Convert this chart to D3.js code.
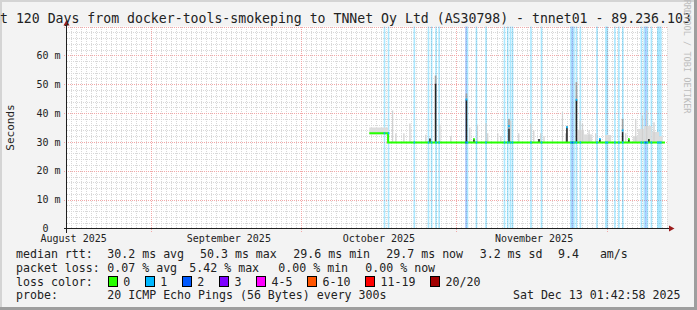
<!DOCTYPE html>
<html>
<head>
<meta charset="utf-8">
<script src="https://cdn.jsdelivr.net/npm/d3@7"></script>
<style>
  body { margin: 0; background: #f3f3f3; }
  svg { display: block; font-family: "DejaVu Sans Mono", monospace; }
  text { white-space: pre; }
</style>
</head>
<body>
<svg id="chart" width="697" height="310"></svg>
<script>
// ---- data ----
const titleText = "Last 120 Days from docker-tools-smokeping to TNNet Oy Ltd (AS30798) - tnnet01 - 89.236.103";
const endTime = new Date("2025-12-13T01:42:58Z");
const startTime = new Date(endTime.getTime() - 120 * 864e5);
const dataEnd = new Date("2025-12-12T16:00:00Z");

const yTicks = [0, 10, 20, 30, 40, 50, 60];
const monthLabels = ["August 2025", "September 2025", "October 2025", "November 2025"];

// median rtt (ms), step changes
const medianSteps = [
  ["2025-10-14T14:00:00Z", 33.0],
  ["2025-10-18T08:00:00Z", 29.8]
];

// packet loss events: [time, loss class]
const lossEvents = [
  ["2025-10-17T11:00:00Z", 1], ["2025-10-18T06:30:00Z", 1], ["2025-10-23T10:00:00Z", 1],
  ["2025-10-26T06:00:00Z", 1], ["2025-10-26T21:00:00Z", 1], ["2025-10-27T18:00:00Z", 1],
  ["2025-10-28T09:00:00Z", 1], ["2025-11-02T18:00:00Z", 2], ["2025-11-03T01:00:00Z", 1],
  ["2025-11-04T20:00:00Z", 1], ["2025-11-06T18:00:00Z", 1], ["2025-11-10T10:30:00Z", 1],
  ["2025-11-11T02:00:00Z", 1], ["2025-11-11T15:00:00Z", 1], ["2025-11-12T01:00:00Z", 1],
  ["2025-11-15T17:30:00Z", 1], ["2025-11-17T20:00:00Z", 1], ["2025-11-23T17:00:00Z", 1],
  ["2025-11-24T00:00:00Z", 2], ["2025-11-24T07:30:00Z", 1], ["2025-11-24T19:30:00Z", 1],
  ["2025-11-25T14:30:00Z", 1], ["2025-11-28T22:00:00Z", 1], ["2025-11-30T17:00:00Z", 1],
  ["2025-12-01T00:00:00Z", 1], ["2025-12-02T12:00:00Z", 1], ["2025-12-03T07:00:00Z", 1],
  ["2025-12-04T02:00:00Z", 1], ["2025-12-07T19:00:00Z", 1], ["2025-12-08T09:00:00Z", 1],
  ["2025-12-08T16:30:00Z", 2], ["2025-12-09T00:00:00Z", 1], ["2025-12-09T19:00:00Z", 1],
  ["2025-12-11T02:00:00Z", 1], ["2025-12-11T09:00:00Z", 1], ["2025-12-11T16:30:00Z", 1]
];

// dense smoke spikes: [time, dark top ms, light top ms, median tip ms, tip loss class]
const darkSpikes = [
  ["2025-10-26T13:00:00Z", 31.2, null, null, 0],
  ["2025-10-27T16:00:00Z", 50.2, 53.0, null, 0],
  ["2025-11-02T20:00:00Z", 44.7, 46.8, 44.7, 1],
  ["2025-11-04T08:00:00Z", 31.0, null, 31.0, 0],
  ["2025-11-11T08:00:00Z", 34.6, 38.0, 35.5, 1],
  ["2025-11-17T08:00:00Z", 31.0, null, null, 0],
  ["2025-11-22T22:00:00Z", 35.1, 35.6, 35.1, 1],
  ["2025-11-24T19:30:00Z", 44.6, 50.7, 44.6, 1],
  ["2025-11-29T12:00:00Z", 31.0, null, 31.0, 1],
  ["2025-12-04T01:00:00Z", 33.4, 38.0, 34.0, 1],
  ["2025-12-05T07:00:00Z", 31.0, null, 31.0, 0],
  ["2025-12-09T07:00:00Z", 31.0, null, null, 0]
];

// light smoke spikes: [time, top ms]
const lightSpikes = [
  ["2025-10-19T03:00:00Z", 40.9], ["2025-10-19T18:30:00Z", 33.0], ["2025-10-21T09:00:00Z", 33.0],
  ["2025-10-22T14:00:00Z", 36.4], ["2025-10-25T18:00:00Z", 32.5], ["2025-10-28T13:30:00Z", 36.0],
  ["2025-10-30T18:00:00Z", 32.0], ["2025-11-03T13:00:00Z", 35.0], ["2025-11-05T02:00:00Z", 36.0],
  ["2025-11-06T18:00:00Z", 36.5], ["2025-11-07T03:00:00Z", 33.0], ["2025-11-09T03:00:00Z", 33.0],
  ["2025-11-09T18:00:00Z", 32.0], ["2025-11-11T17:30:00Z", 37.4], ["2025-11-13T08:00:00Z", 33.0],
  ["2025-11-15T17:30:00Z", 36.4], ["2025-11-16T08:00:00Z", 34.0], ["2025-11-17T17:00:00Z", 33.0],
  ["2025-11-18T09:00:00Z", 32.0], ["2025-11-20T01:30:00Z", 31.0], ["2025-11-22T01:30:00Z", 40.3],
  ["2025-11-22T17:00:00Z", 33.0], ["2025-11-25T14:00:00Z", 37.4], ["2025-11-26T01:30:00Z", 36.4],
  ["2025-11-27T09:00:00Z", 34.0], ["2025-11-28T17:00:00Z", 33.0], ["2025-12-04T17:00:00Z", 33.0],
  ["2025-12-06T17:00:00Z", 38.0], ["2025-12-08T01:00:00Z", 39.2], ["2025-12-08T21:30:00Z", 40.9],
  ["2025-12-10T08:30:00Z", 36.8]
];

// broad smoke bands: [start, end, low ms, high ms]
const smokeBands = [
  ["2025-10-14T14:00:00Z", "2025-10-18T08:00:00Z", 32.6, 35.0],
  ["2025-11-25T01:30:00Z", "2025-11-26T12:00:00Z", 29.8, 34.2],
  ["2025-11-26T12:00:00Z", "2025-11-28T03:00:00Z", 29.8, 32.6],
  ["2025-11-30T17:00:00Z", "2025-12-01T22:00:00Z", 29.8, 32.4],
  ["2025-12-06T06:00:00Z", "2025-12-07T07:00:00Z", 29.8, 32.0],
  ["2025-12-07T07:00:00Z", "2025-12-08T12:00:00Z", 29.8, 34.5],
  ["2025-12-08T12:00:00Z", "2025-12-10T00:00:00Z", 29.8, 35.5],
  ["2025-12-10T00:00:00Z", "2025-12-11T12:00:00Z", 29.8, 33.5],
  ["2025-12-11T12:00:00Z", "2025-12-12T05:00:00Z", 29.8, 32.0]
];

const lossLabels = ["0", "1", "2", "3", "4-5", "6-10", "11-19", "20/20"];
const lossColors = ["#26ff00", "#00b8ff", "#0059ff", "#7e00ff", "#ff00ff", "#ff5500", "#ff0000", "#a10000"];

const rttStats = ["30.2 ms avg", "50.3 ms max", "29.6 ms min", "29.7 ms now", "3.2 ms sd", "9.4   am/s"];
const lossStats = ["0.07 % avg", "5.42 % max", "0.00 % min", "0.00 % now"];
const probeText = "20 ICMP Echo Pings (56 Bytes) every 300s";
const stampText = "Sat Dec 13 01:42:58 2025";

// ---- layout ----
const svg = d3.select("#chart");
const W = 697, H = 310;
const plotL = 66.5, plotR = 667, plotT = 26.5, plotB = 228.5;

const x = d3.scaleUtc().domain([startTime, endTime]).range([plotL, plotR]);
const y = d3.scaleLinear().domain([0, 70]).range([plotB, plotT]);
const stepPx = 1.6;

// frame
svg.append("rect").attr("width", W).attr("height", H).attr("fill", "#f3f3f3");
svg.append("path").attr("d", `M0,0H${W}V2H2V${H}H0Z`).attr("fill", "#d4d4d4");
svg.append("path").attr("d", `M${W},${H}H0V${H - 3}H${W - 3}V0H${W}Z`).attr("fill", "#9e9e9e");

// canvas
svg.append("rect")
  .attr("x", plotL).attr("y", plotT)
  .attr("width", plotR - plotL).attr("height", plotB - plotT)
  .attr("fill", "#ffffff");

const grid = svg.append("g").attr("shape-rendering", "crispEdges");

// minor grid
d3.utcDay.range(startTime, endTime).forEach(function(d) {
  const px = Math.round(x(d)) + 0.5;
  grid.append("line")
    .attr("x1", px).attr("x2", px).attr("y1", plotT).attr("y2", plotB)
    .attr("stroke", "#d8d8d8").attr("stroke-dasharray", "1,1");
});
for (let v = 2; v < 70; v += 2) {
  if (v % 10 === 0) continue;
  const py = Math.round(y(v)) + 0.5;
  grid.append("line")
    .attr("x1", plotL).attr("x2", plotR).attr("y1", py).attr("y2", py)
    .attr("stroke", "#d8d8d8").attr("stroke-dasharray", "1,1");
}

// major grid
const months = d3.utcMonth.range(d3.utcMonth.ceil(startTime), endTime);
months.forEach(function(d) {
  const px = Math.round(x(d)) + 0.5;
  grid.append("line")
    .attr("x1", px).attr("x2", px).attr("y1", plotT).attr("y2", plotB + 3)
    .attr("stroke", "#f2a8a8").attr("stroke-dasharray", "1,1");
});
yTicks.slice(1).concat([70]).forEach(function(v) {
  const py = Math.round(y(v)) + 0.5;
  grid.append("line")
    .attr("x1", plotL - 3).attr("x2", plotR).attr("y1", py).attr("y2", py)
    .attr("stroke", "#f2a8a8").attr("stroke-dasharray", "1,1");
});

// loss bars
const gLoss = svg.append("g");
lossEvents.forEach(function(e) {
  const px = x(new Date(e[0]));
  gLoss.append("rect")
    .attr("x", px).attr("y", plotT)
    .attr("width", stepPx).attr("height", plotB - plotT)
    .attr("fill", lossColors[e[1]]).attr("opacity", 0.33);
});

// smoke
const gSmoke = svg.append("g");
const baseMs = medianSteps[medianSteps.length - 1][1];
smokeBands.forEach(function(b) {
  gSmoke.append("rect")
    .attr("x", x(new Date(b[0]))).attr("y", y(b[3]))
    .attr("width", x(new Date(b[1])) - x(new Date(b[0])))
    .attr("height", y(b[2]) - y(b[3]))
    .attr("fill", "#dcdcdc");
});
lightSpikes.forEach(function(s) {
  gSmoke.append("rect")
    .attr("x", x(new Date(s[0]))).attr("y", y(s[1]))
    .attr("width", 1.2).attr("height", y(baseMs) - y(s[1]))
    .attr("fill", "#d0d0d0");
});
darkSpikes.forEach(function(s) {
  const px = x(new Date(s[0]));
  if (s[2] !== null) {
    gSmoke.append("rect")
      .attr("x", px).attr("y", y(s[2]))
      .attr("width", stepPx).attr("height", y(s[1]) - y(s[2]))
      .attr("fill", "#a0a0a0");
  }
  gSmoke.append("rect")
    .attr("x", px).attr("y", y(s[1]))
    .attr("width", stepPx).attr("height", y(baseMs) - y(s[1]))
    .attr("fill", "#262626");
});

// median line
const medianPts = medianSteps.map(function(d) { return [new Date(d[0]), d[1]]; });
medianPts.push([dataEnd, baseMs]);
const line = d3.line()
  .x(function(d) { return x(d[0]); })
  .y(function(d) { return y(d[1]); })
  .curve(d3.curveStepAfter);
svg.append("path")
  .datum(medianPts)
  .attr("d", line)
  .attr("fill", "none")
  .attr("stroke", lossColors[0])
  .attr("stroke-width", 2);

function medianAt(t) {
  let v = medianSteps[0][1];
  medianSteps.forEach(function(d) { if (new Date(d[0]) <= t) v = d[1]; });
  return v;
}
lossEvents.forEach(function(e) {
  const t = new Date(e[0]);
  const py = y(medianAt(t));
  svg.append("rect")
    .attr("x", x(t)).attr("y", py - 1)
    .attr("width", stepPx).attr("height", 2)
    .attr("fill", lossColors[e[1]]);
});
darkSpikes.forEach(function(s) {
  if (s[3] === null) return;
  svg.append("rect")
    .attr("x", x(new Date(s[0]))).attr("y", y(s[3]) - 1)
    .attr("width", stepPx).attr("height", 2)
    .attr("fill", lossColors[s[4]]);
});

// axes
svg.append("line")
  .attr("x1", plotL).attr("x2", plotL).attr("y1", plotB + 4).attr("y2", plotT - 2)
  .attr("stroke", "#202020").attr("shape-rendering", "crispEdges");
svg.append("line")
  .attr("x1", plotL - 3).attr("x2", plotR + 3).attr("y1", plotB).attr("y2", plotB)
  .attr("stroke", "#202020").attr("shape-rendering", "crispEdges");
svg.append("path")
  .attr("d", `M${plotL - 3},${plotT - 1}L${plotL},${plotT - 6.5}L${plotL + 3},${plotT - 1}Z`)
  .attr("fill", "#9b1c1c");
svg.append("path")
  .attr("d", `M${plotR + 2},${plotB - 3}L${plotR + 7.5},${plotB}L${plotR + 2},${plotB + 3}Z`)
  .attr("fill", "#9b1c1c");

// y tick labels
yTicks.forEach(function(v) {
  svg.append("text")
    .attr("x", v === 0 ? 48.5 : 60.5)
    .attr("y", v === 0 ? y(v) - 0.5 : y(v))
    .attr("dy", "0.36em")
    .attr("text-anchor", "end")
    .attr("font-size", "10px")
    .attr("fill", "#222")
    .text(v === 0 ? "0" : v + " m");
});

// month labels, centred on the month
d3.utcMonth.range(d3.utcMonth.floor(startTime), endTime).forEach(function(d, i) {
  const mid = new Date(d.getTime() + 15.5 * 864e5);
  if (mid < startTime || mid > endTime || i >= monthLabels.length) return;
  svg.append("text")
    .attr("x", x(mid)).attr("y", 241.8)
    .attr("text-anchor", "middle")
    .attr("font-size", "10px")
    .attr("fill", "#222")
    .text(monthLabels[i]);
});

// title
svg.append("text")
  .attr("x", -23.8).attr("y", 23)
  .attr("font-size", "13.2px")
  .attr("fill", "#222")
  .text(titleText);

// vertical label
svg.append("text")
  .attr("transform", "translate(14," + ((plotT + plotB) / 2) + ") rotate(-90)")
  .attr("text-anchor", "middle")
  .attr("font-size", "11px")
  .attr("fill", "#222")
  .text("Seconds");

svg.append("text")
  .attr("transform", "translate(683.5,113.5) rotate(90)")
  .attr("text-anchor", "end")
  .attr("font-size", "8.6px")
  .attr("fill", "#bdbdbd")
  .text("RRDTOOL / TOBI OETIKER");

// legend
const legendFont = "11.6px";
const rowY = [258.3, 271.8, 285.5, 299];
const rttX = [107.3, 200, 293.3, 386.3, 479.7, 558];
const lossX = [107.3, 189.3, 278.3, 365.3];

function legendText(px, py, str, anchor) {
  return svg.append("text")
    .attr("x", px).attr("y", py)
    .attr("text-anchor", anchor || "start")
    .attr("font-size", legendFont)
    .attr("fill", "#222")
    .text(str);
}

legendText(16, rowY[0], "median rtt:");
rttStats.forEach(function(s, i) { legendText(rttX[i], rowY[0], s); });
legendText(16, rowY[1], "packet loss:");
lossStats.forEach(function(s, i) { legendText(lossX[i], rowY[1], s); });
legendText(16, rowY[2], "loss color:");

let bx = 108.5;
lossLabels.forEach(function(lab, i) {
  svg.append("rect")
    .attr("x", bx).attr("y", rowY[2] - 9.5)
    .attr("width", 9).attr("height", 10)
    .attr("fill", lossColors[i])
    .attr("stroke", "#000").attr("stroke-width", 1)
    .attr("shape-rendering", "crispEdges");
  const t = legendText(bx + 14.7, rowY[2], lab);
  bx = bx + 14.7 + t.node().getComputedTextLength() + 15.4;
});

legendText(16, rowY[3], "probe:");
legendText(107.3, rowY[3], probeText);
legendText(680.5, rowY[3], stampText, "end");
</script>
</body>
</html>
